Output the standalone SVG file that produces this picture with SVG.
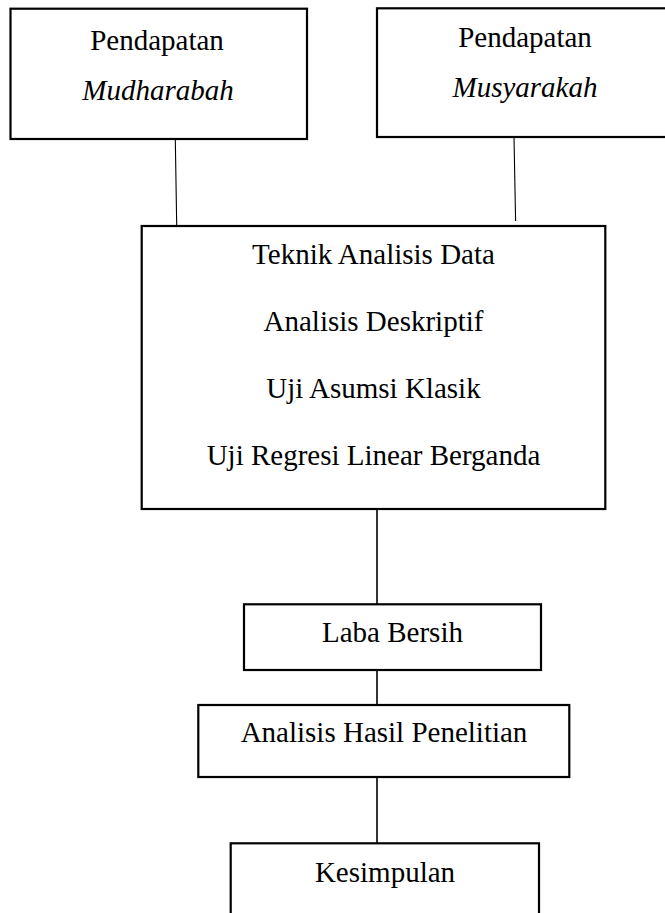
<svg xmlns="http://www.w3.org/2000/svg" width="665" height="913" viewBox="0 0 665 913">
<style>
  .box { fill: #ffffff; stroke: #000000; stroke-width: 2.2; }
  .conn { stroke: #000000; fill: none; }
  .t { font-family: "Liberation Serif", "Times New Roman", serif; font-size: 29px; fill: #000000; text-anchor: middle; }
  .it { font-style: italic; }
</style>
<rect x="0" y="0" width="665" height="913" fill="#ffffff"/>
<g id="connectors">
  <line class="conn" x1="175.3" y1="139" x2="176.7" y2="225" stroke-width="1.1"/>
  <line class="conn" x1="514" y1="137" x2="515.6" y2="221" stroke-width="1.1"/>
  <line class="conn" x1="377" y1="509" x2="377" y2="604" stroke-width="1.6"/>
  <line class="conn" x1="377" y1="670" x2="377" y2="705" stroke-width="1.6"/>
  <line class="conn" x1="377" y1="777" x2="377" y2="843" stroke-width="1.6"/>
</g>
<g id="mudharabah">
  <rect class="box" x="10.5" y="8.7" width="296.5" height="130.3"/>
  <text class="t" x="157" y="50">Pendapatan</text>
  <text class="t it" x="158" y="100">Mudharabah</text>
</g>
<g id="musyarakah">
  <rect class="box" x="377" y="8.3" width="300" height="128.7"/>
  <text class="t" x="525" y="47">Pendapatan</text>
  <text class="t it" x="525" y="97">Musyarakah</text>
</g>
<g id="teknik">
  <rect class="box" x="141.7" y="226" width="463.6" height="283"/>
  <text class="t" x="373.5" y="264">Teknik Analisis Data</text>
  <text class="t" x="373.5" y="331">Analisis Deskriptif</text>
  <text class="t" x="373.5" y="398">Uji Asumsi Klasik</text>
  <text class="t" x="373.5" y="465">Uji Regresi Linear Berganda</text>
</g>
<g id="laba">
  <rect class="box" x="244" y="604.3" width="297" height="65.7"/>
  <text class="t" x="392.5" y="642">Laba Bersih</text>
</g>
<g id="hasil">
  <rect class="box" x="198.3" y="705" width="371" height="72"/>
  <text class="t" x="384" y="742">Analisis Hasil Penelitian</text>
</g>
<g id="kesimpulan">
  <rect class="box" x="230.7" y="843.3" width="308.3" height="90"/>
  <text class="t" x="385" y="882">Kesimpulan</text>
</g>
</svg>
